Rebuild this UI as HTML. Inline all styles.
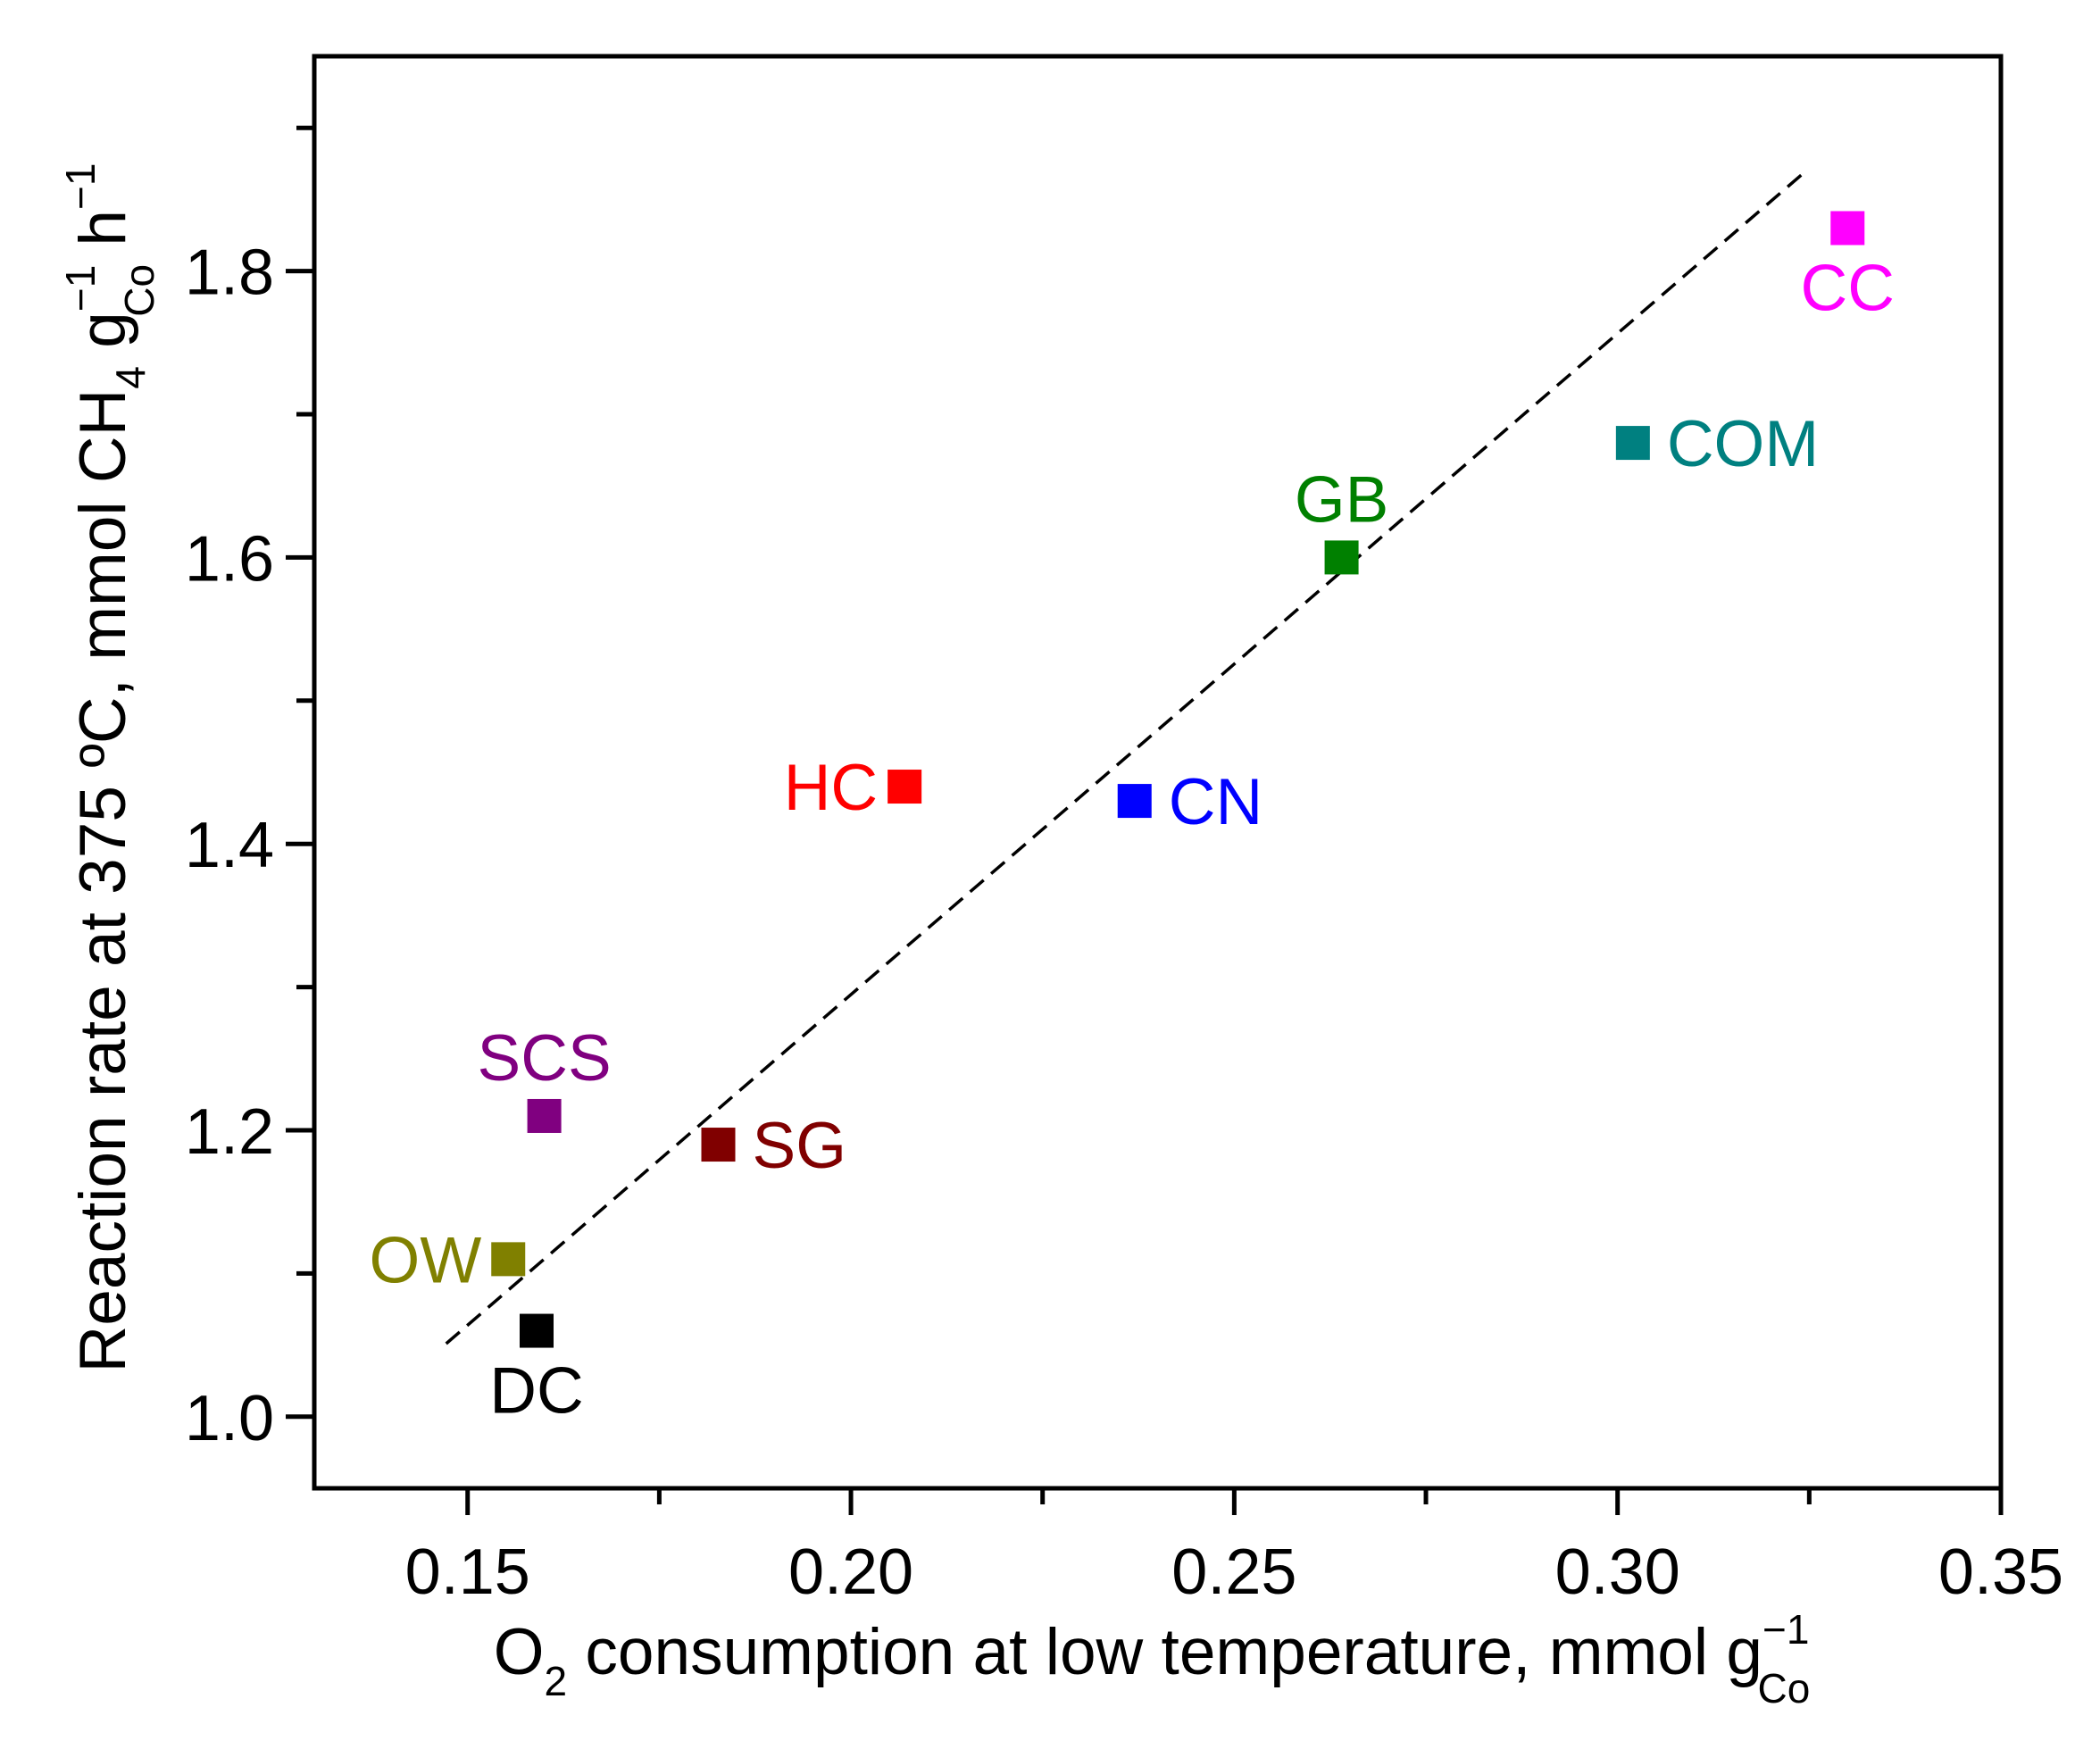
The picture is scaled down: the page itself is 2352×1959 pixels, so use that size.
<!DOCTYPE html>
<html><head><meta charset="utf-8"><style>
html,body{margin:0;padding:0;background:#fff;}
svg{display:block;font-family:"Liberation Sans",Arial,sans-serif;}
</style></head><body>
<svg id="chart" width="2352" height="1959" viewBox="0 0 2352 1959" xmlns="http://www.w3.org/2000/svg">
<rect width="2352" height="1959" fill="#fff"/>
<g id="ticks"></g>
<g id="fit"></g>
<g id="points"></g>
<rect x="352" y="63" width="1889" height="1604" fill="none" stroke="#000" stroke-width="5"/>
<text x="1290" y="1875" font-size="73" text-anchor="middle">O<tspan font-size="46" dy="24">2</tspan><tspan dy="-24"> consumption at low temperature, mmol g</tspan><tspan font-size="46" dy="-34">−1</tspan><tspan font-size="46" dx="-58" dy="66">Co</tspan></text>
<text transform="translate(140,860) rotate(-90)" font-size="73" text-anchor="middle">Reaction rate at 375 ºC, mmol CH<tspan font-size="46" dy="22">4</tspan><tspan dy="-22"> g</tspan><tspan font-size="46" dy="-34">−1</tspan><tspan font-size="46" dx="-58" dy="66">Co</tspan><tspan dy="-32"> h</tspan><tspan font-size="46" dy="-34">−1</tspan></text>
</svg>
<script>
const names = ["DC","OW","SCS","SG","HC","CN","GB","COM","CC"];
const xVals = [0.159,0.1553,0.160,0.1827,0.207,0.237,0.264,0.302,0.330];
const yVals = [1.06,1.11,1.21,1.19,1.44,1.43,1.60,1.68,1.83];
const colors = ["#000000","#808000","#800080","#800000","#ff0000","#0000ff","#008000","#008080","#ff00ff"];
const labelPos = ["below","left","above","right","left","right","above","right","below"];
const fitX = [0.1472,0.3246];
const fitY = [1.051,1.870];
const xTicks = [0.15,0.20,0.25,0.30,0.35];
const xTickLabels = ["0.15","0.20","0.25","0.30","0.35"];
const xMinor = [0.175,0.225,0.275,0.325];
const yTicks = [1.0,1.2,1.4,1.6,1.8];
const yTickLabels = ["1.0","1.2","1.4","1.6","1.8"];
const yMinor = [1.1,1.3,1.5,1.7,1.9];

const L=352,R=2241,T=63,B=1667,X0=0.13,X1=0.35,Y0=0.95,Y1=1.95;
function sx(v){return L+(v-X0)/(X1-X0)*(R-L);}
function sy(v){return B-(v-Y0)/(Y1-Y0)*(B-T);}
const NS="http://www.w3.org/2000/svg";
function mk(tag,attrs,parent){const e=document.createElementNS(NS,tag);for(const k in attrs)e.setAttribute(k,attrs[k]);parent.appendChild(e);return e;}
const tg=document.getElementById('ticks');
xTicks.forEach((v,i)=>{
  const l=mk('line',{x1:sx(v),x2:sx(v),y1:B,y2:B+30,stroke:'#000','stroke-width':5},tg);
  
  
  const t=mk('text',{x:sx(v),y:B+118,'font-size':72,'text-anchor':'middle'},tg);
  t.textContent=xTickLabels[i];
  
  
});
xMinor.forEach(v=>{
  const l=mk('line',{x1:sx(v),x2:sx(v),y1:B,y2:B+18,stroke:'#000','stroke-width':5},tg);
  
  
});
yTicks.forEach((v,i)=>{
  const l=mk('line',{x1:L-32,x2:L,y1:sy(v),y2:sy(v),stroke:'#000','stroke-width':5},tg);
  
  
  const t=mk('text',{x:L-45,y:sy(v)+26,'font-size':72,'text-anchor':'end'},tg);
  t.textContent=yTickLabels[i];
  
  
});
yMinor.forEach(v=>{
  const l=mk('line',{x1:L-20,x2:L,y1:sy(v),y2:sy(v),stroke:'#000','stroke-width':5},tg);
  
  
});
const fg=document.getElementById('fit');
const fl=mk('line',{x1:sx(fitX[0]),y1:sy(fitY[0]),x2:sx(fitX[1]),y2:sy(fitY[1]),stroke:'#000','stroke-width':3.5,'stroke-dasharray':'20 11'},fg);


const pg=document.getElementById('points');
const S=38;
names.forEach((n,i)=>{
  const cx=sx(xVals[i]),cy=sy(yVals[i]);
  const r=mk('rect',{x:cx-S/2,y:cy-S/2,width:S,height:S,fill:colors[i]},pg);
  
  
  let tx=cx,ty=cy+26,anc='middle';
  if(labelPos[i]==='below'){ty=cy+92;}
  else if(labelPos[i]==='above'){ty=cy-40;}
  else if(labelPos[i]==='left'){tx=cx-30;anc='end';}
  else {tx=cx+38;anc='start';}
  const t=mk('text',{x:tx,y:ty,'font-size':73,'text-anchor':anc,fill:colors[i]},pg);
  t.textContent=n;
  
  
});
</script>
</body></html>
